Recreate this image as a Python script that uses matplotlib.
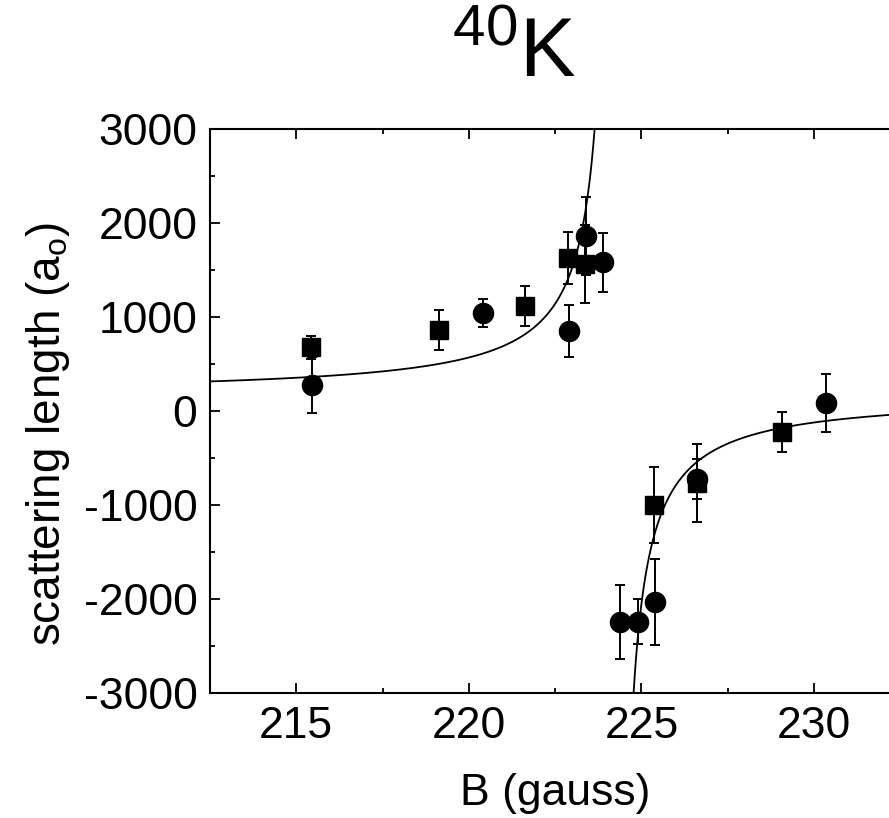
"""
40K Feshbach resonance: scattering length vs magnetic field.
"""
import numpy as np
import matplotlib
matplotlib.use("Agg")
import matplotlib.pyplot as plt
from matplotlib.ticker import MultipleLocator

# ── Data ─────────────────────────────────────────────────────────────────────
circle_B = [215.45, 220.40, 222.89, 223.39, 223.90, 224.37, 224.89, 225.38, 226.61, 230.35]
circle_a = [280, 1043, 854, 1865, 1585, -2238, -2238, -2026, -722, 92]
circle_err = [300, 150, 275, 420, 312, 395, 240, 460, 211, 310]

square_B = [215.42, 219.14, 221.63, 222.87, 223.37, 225.35, 226.61, 229.08]
square_a = [681, 865, 1120, 1631, 1567, -997, -766, -217]
square_err = [120, 210, 215, 277, 412, 408, 415, 213]

# Fit parameters: a(B) = a_bg * (1 - w / (B - B0))
A_BG = 174.0
WIDTH = 9.7
B0 = 224.24

XLIM = (212.5, 232.5)
YLIM = (-3000, 3000)

# ── Style ────────────────────────────────────────────────────────────────────
FONT = ["Liberation Sans", "DejaVu Sans"]
plt.rcParams["font.family"] = FONT
plt.rcParams["mathtext.fontset"] = "custom"
plt.rcParams["mathtext.rm"] = "Liberation Sans"
plt.rcParams["mathtext.it"] = "Liberation Sans"
plt.rcParams["axes.unicode_minus"] = False

fig = plt.figure(figsize=(8.89, 8.18), dpi=100, facecolor="white")
ax = fig.add_axes([210 / 889, 1 - 693.3 / 818, (900.3 - 210) / 889, (693.3 - 129.3) / 818])

# fit curve, two branches around the pole
b_lo = np.linspace(XLIM[0], B0 - 0.05, 600)
b_hi = np.linspace(B0 + 0.05, XLIM[1], 600)
ax.plot(b_lo, A_BG * (1 - WIDTH / (b_lo - B0)), color="black", lw=1.3, zorder=2)
ax.plot(b_hi, A_BG * (1 - WIDTH / (b_hi - B0)), color="black", lw=1.3, zorder=2)

ax.errorbar(square_B, square_a, yerr=square_err, fmt="s", color="black",
            ms=13.5, capsize=3.6, elinewidth=1.4, capthick=1.4, zorder=3)
ax.errorbar(circle_B, circle_a, yerr=circle_err, fmt="o", color="black",
            ms=14.5, capsize=3.6, elinewidth=1.4, capthick=1.4, zorder=4)

ax.set_xlim(*XLIM)
ax.set_ylim(*YLIM)
ax.xaxis.set_major_locator(MultipleLocator(5))
ax.xaxis.set_minor_locator(MultipleLocator(2.5))
ax.yaxis.set_major_locator(MultipleLocator(1000))
ax.yaxis.set_minor_locator(MultipleLocator(500))
ax.tick_params(which="both", direction="in", top=True, right=True, width=1.3,
               labelsize=32, pad=9)
ax.tick_params(which="major", length=7)
ax.tick_params(which="minor", length=3.5)
for s in ax.spines.values():
    s.set_linewidth(1.5)

ax.set_xlabel("B (gauss)", fontsize=32, labelpad=19)
ax.set_ylabel(r"scattering length (a$_\mathrm{o}$)", fontsize=33)
ax.yaxis.set_label_coords((72 - 210) / 690.3, (693.3 - 434) / 564)

fig.text(514 / 889, 1 - 77 / 818, r"$^{40}$K", fontsize=60,
         ha="center", va="baseline")

fig.savefig("out.png", dpi=100, facecolor="white")
